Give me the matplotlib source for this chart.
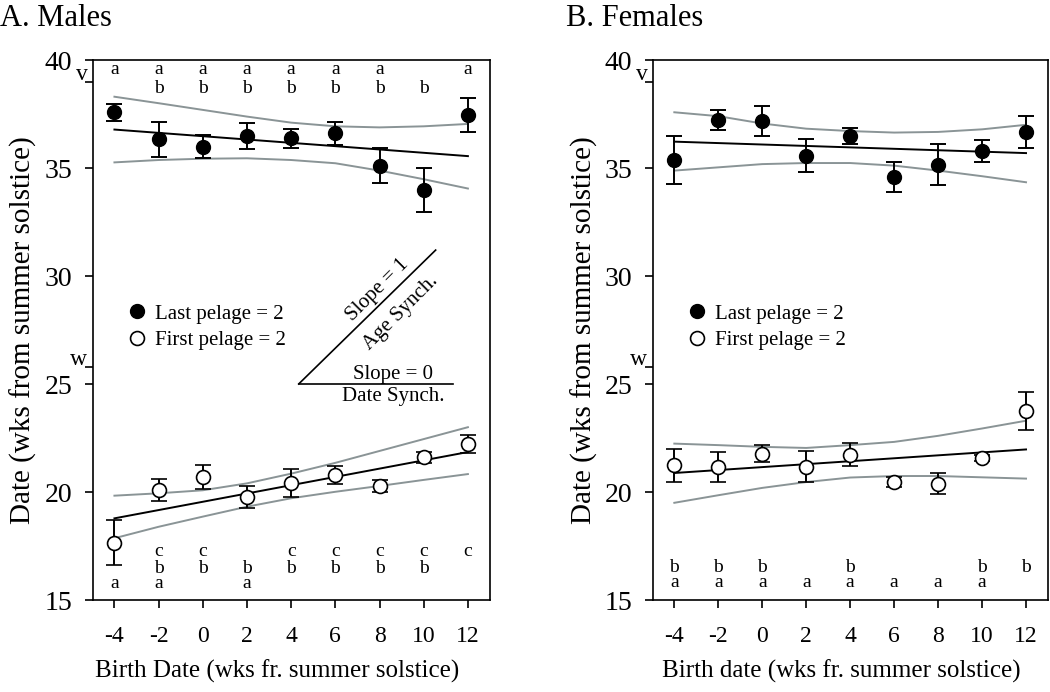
import matplotlib
matplotlib.use('Agg')
import matplotlib.pyplot as plt
from matplotlib.lines import Line2D

plt.rcParams['font.family'] = ['Liberation Serif', 'DejaVu Serif']

# ---------------- data ----------------
birth = [-4, -2, 0, 2, 4, 6, 8, 10, 12]
fit_x = [-4, 12]

# Males
m_last = [37.58, 36.33, 35.99, 36.47, 36.37, 36.60, 35.11, 33.97, 37.45]
m_last_err = [0.40, 0.80, 0.52, 0.60, 0.45, 0.52, 0.80, 1.02, 0.80]
m_last_fit = [36.78, 35.55]
m_last_ci_hi = [38.30, 38.00, 37.69, 37.38, 37.10, 36.93, 36.88, 36.93, 37.04]
m_last_ci_lo = [35.26, 35.37, 35.43, 35.45, 35.37, 35.22, 34.88, 34.48, 34.05]

m_first = [17.65, 20.09, 20.68, 19.78, 20.40, 20.79, 20.29, 21.61, 22.22]
m_first_err = [1.05, 0.50, 0.55, 0.50, 0.65, 0.40, 0.27, 0.25, 0.40]
m_first_fit = [18.78, 21.85]
m_first_ci_hi = [19.83, 19.94, 20.08, 20.40, 20.85, 21.35, 21.90, 22.45, 23.00]
m_first_ci_lo = [17.86, 18.39, 18.86, 19.32, 19.71, 20.01, 20.28, 20.56, 20.83]

# Females
f_last = [35.38, 37.22, 37.16, 35.57, 36.48, 34.57, 35.15, 35.80, 36.67]
f_last_err = [1.10, 0.45, 0.70, 0.75, 0.35, 0.70, 0.95, 0.50, 0.75]
f_last_fit = [36.22, 35.69]
f_last_ci_hi = [37.58, 37.40, 37.06, 36.82, 36.71, 36.64, 36.67, 36.79, 37.00]
f_last_ci_lo = [34.88, 35.03, 35.18, 35.23, 35.23, 35.11, 34.88, 34.62, 34.34]

f_first = [21.24, 21.16, 21.78, 21.16, 21.73, 20.46, 20.39, 21.58, 23.75]
f_first_err = [0.77, 0.69, 0.41, 0.72, 0.52, 0.25, 0.50, 0.15, 0.90]
f_first_fit = [20.88, 21.97]
f_first_ci_hi = [22.24, 22.17, 22.09, 22.04, 22.17, 22.32, 22.60, 22.94, 23.30]
f_first_ci_lo = [19.50, 19.85, 20.19, 20.46, 20.67, 20.74, 20.74, 20.68, 20.62]

# significance letters
m_top_1 = ['a', 'a', 'a', 'a', 'a', 'a', 'a', '', 'a']
m_top_2 = ['', 'b', 'b', 'b', 'b', 'b', 'b', 'b', '']
m_bot_c = ['', 'c', 'c', '', 'c', 'c', 'c', 'c', 'c']
m_bot_b = ['', 'b', 'b', 'b', 'b', 'b', 'b', 'b', '']
m_bot_a = ['a', 'a', '', 'a', '', '', '', '', '']
f_bot_b = ['b', 'b', 'b', '', 'b', '', '', 'b', 'b']
f_bot_a = ['a', 'a', 'a', 'a', 'a', 'a', 'a', 'a', '']

yticks = [15, 20, 25, 30, 35, 40]
xticks = [-4, -2, 0, 2, 4, 6, 8, 10, 12]
phase_ticks = [39.0, 25.8]
phase_labels = ['v', 'w']

GREY = '#8a9496'
W, H = 1050, 692
fig = plt.figure(figsize=(W / 100, H / 100), dpi=100)

axA = fig.add_axes([93 / W, 1 - 600 / H, (490 - 93) / W, 540 / H])
axB = fig.add_axes([653 / W, 1 - 600 / H, (1048 - 653) / W, 540 / H])


def draw_panel(ax, last, last_err, last_fit, lhi, llo,
               first, first_err, first_fit, fhi, flo):
    for hi, lo in ((lhi, llo), (fhi, flo)):
        ax.plot(birth, hi, color=GREY, lw=1.4, zorder=1)
        ax.plot(birth, lo, color=GREY, lw=1.4, zorder=1)
    ax.plot(fit_x, last_fit, color='black', lw=1.4, zorder=2)
    ax.plot(fit_x, first_fit, color='black', lw=1.4, zorder=2)
    ax.errorbar(birth, last, yerr=last_err, fmt='o', ms=10, mfc='black',
                mec='black', ecolor='black', elinewidth=1.4, capsize=6,
                capthick=1.4, zorder=3)
    ax.errorbar(birth, first, yerr=first_err, fmt='o', ms=10, mfc='white',
                mec='black', mew=1.2, ecolor='black', elinewidth=1.4,
                capsize=6, capthick=1.4, zorder=3)
    ax.set_xlim(-4.97, 13.0)
    ax.set_ylim(15, 40)
    ax.set_xticks(xticks)
    ax.set_xticklabels([str(v) for v in xticks], fontsize=17)
    ax.set_yticks(yticks + phase_ticks)
    ax.set_yticklabels([str(v) for v in yticks] + ['', ''], fontsize=20)
    ax.tick_params(direction='out', length=5.8, width=1.2)
    ax.tick_params(axis='y', pad=9)
    ax.tick_params(axis='x', pad=13)
    for s in ax.spines.values():
        s.set_linewidth(1.2)
    for val, lab in zip(phase_ticks, phase_labels):
        ax.annotate(lab, xy=(0, val), xycoords=('axes fraction', 'data'),
                    xytext=(-4, 5), textcoords='offset points',
                    ha='right', va='center', fontsize=17)
    ax.set_ylabel('Date (wks from summer solstice)', fontsize=21)
    ax.yaxis.set_label_coords(-0.14, 0.50)
    handles = [Line2D([], [], marker='o', ls='none', ms=10, mfc='black', mec='black'),
               Line2D([], [], marker='o', ls='none', ms=10, mfc='white', mec='black', mew=1.2)]
    ax.legend(handles, ['Last pelage = 2', 'First pelage = 2'], loc='upper left',
              bbox_to_anchor=(0.085, 0.548), frameon=False, fontsize=15,
              handlelength=1.0, handletextpad=0.35, labelspacing=0.34,
              borderpad=0, borderaxespad=0)


def letters(ax, row, y):
    for x, t in zip(birth, row):
        if t:
            ax.text(x, y, t, ha='center', va='center', fontsize=14)


draw_panel(axA, m_last, m_last_err, m_last_fit, m_last_ci_hi, m_last_ci_lo,
           m_first, m_first_err, m_first_fit, m_first_ci_hi, m_first_ci_lo)
draw_panel(axB, f_last, f_last_err, f_last_fit, f_last_ci_hi, f_last_ci_lo,
           f_first, f_first_err, f_first_fit, f_first_ci_hi, f_first_ci_lo)

axA.set_xlabel('Birth Date (wks fr. summer solstice)', fontsize=18)
axB.set_xlabel('Birth date (wks fr. summer solstice)', fontsize=18)
axA.xaxis.set_label_coords(0.465, -0.11)
axB.xaxis.set_label_coords(0.477, -0.11)

letters(axA, m_top_1, 39.57)
letters(axA, m_top_2, 38.69)
letters(axA, m_bot_c, 17.24)
letters(axA, m_bot_b, 16.46)
letters(axA, m_bot_a, 15.77)
letters(axB, f_bot_b, 16.52)
letters(axB, f_bot_a, 15.82)

# slope diagram
axA.plot([4.34, 11.32], [25.0, 25.0], color='black', lw=1.2)
axA.plot([4.34, 10.54], [25.0, 31.2], color='black', lw=1.2)
axA.text(7.92, 29.35, 'Slope = 1', rotation=45, ha='center', va='center',
         fontsize=15, rotation_mode='anchor')
axA.text(8.96, 28.29, 'Age Synch.', rotation=45, ha='center', va='center',
         fontsize=15, rotation_mode='anchor')
axA.text(8.6, 25.42, 'Slope = 0', ha='center', va='center', fontsize=15)
axA.text(8.6, 24.4, 'Date Synch.', ha='center', va='center', fontsize=15)

fig.text(0 / W, 1 - 18 / H, 'A. Males', ha='left', va='center', fontsize=22)
fig.text(566 / W, 1 - 18 / H, 'B. Females', ha='left', va='center', fontsize=22)

fig.savefig('out.png', dpi=100)
